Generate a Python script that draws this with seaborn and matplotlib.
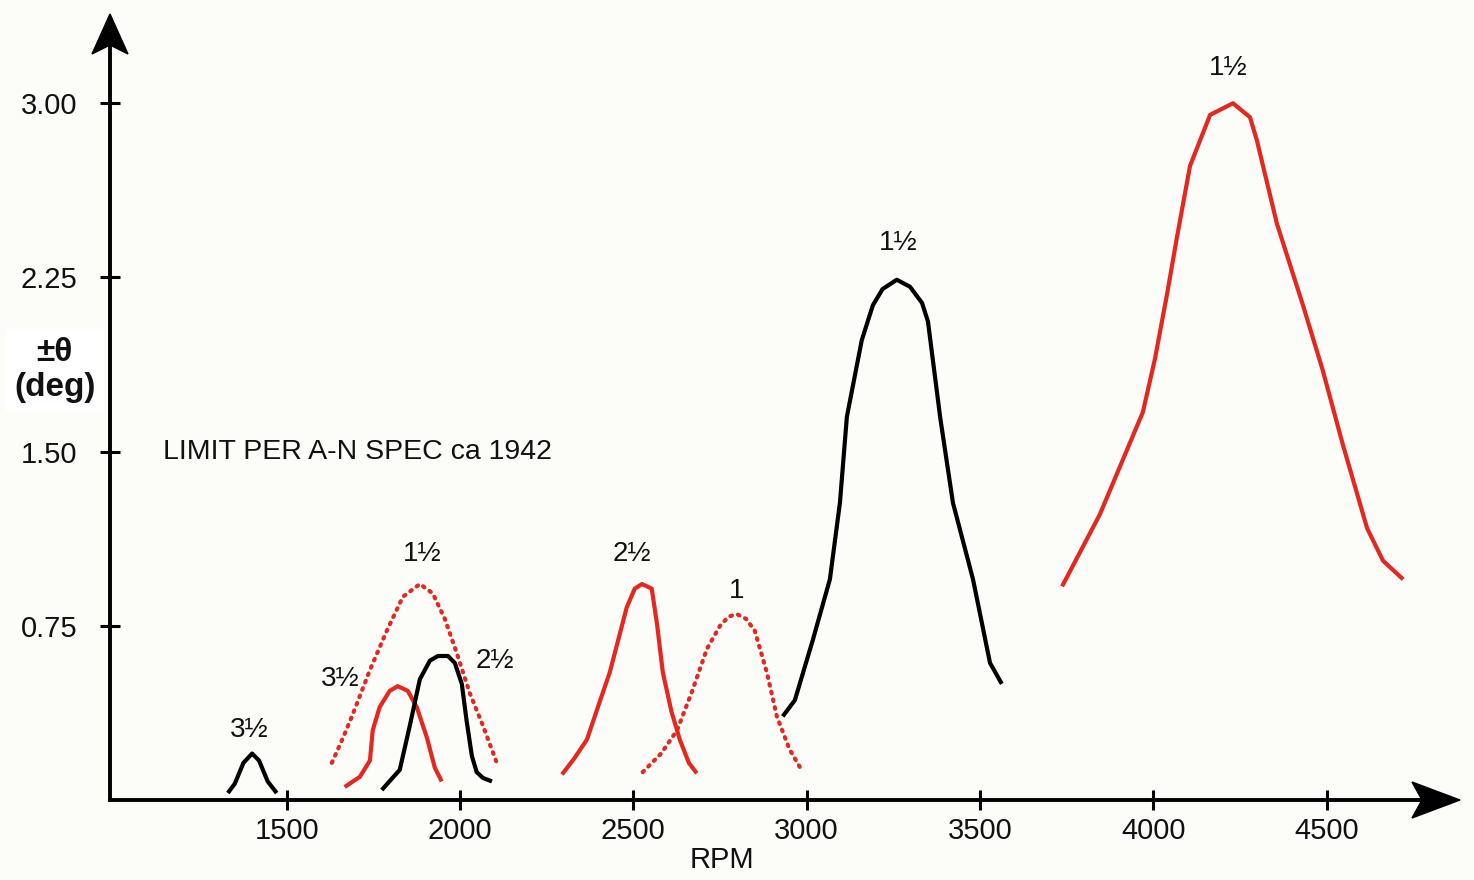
import pandas as pd
import seaborn as sns
import matplotlib.pyplot as plt
from matplotlib.patches import Polygon

# curve data (RPM, +/- theta deg)
rpm_a = [1330, 1350, 1375, 1400, 1420, 1445, 1471]
deg_a = [0.03, 0.07, 0.16, 0.20, 0.17, 0.08, 0.03]

rpm_b = [1630, 1660, 1688, 1740, 1789, 1835, 1884, 1921, 1956, 1991, 2028, 2066, 2106]
deg_b = [0.16, 0.26, 0.36, 0.56, 0.73, 0.875, 0.93, 0.89, 0.78, 0.63, 0.46, 0.32, 0.16]

rpm_c = [1667, 1711, 1740, 1748, 1768, 1797, 1820, 1849, 1875, 1904, 1927, 1947]
deg_c = [0.056, 0.10, 0.17, 0.30, 0.40, 0.47, 0.49, 0.47, 0.40, 0.27, 0.14, 0.08]

rpm_d = [1774, 1826, 1855, 1884, 1913, 1936, 1965, 1985, 2005, 2019, 2034, 2048, 2066, 2092]
deg_d = [0.043, 0.13, 0.32, 0.52, 0.60, 0.62, 0.62, 0.59, 0.50, 0.34, 0.19, 0.12, 0.095, 0.08]

rpm_e = [2294, 2330, 2366, 2400, 2432, 2481, 2504, 2525, 2553, 2568, 2585, 2610, 2634, 2660, 2683]
deg_e = [0.11, 0.18, 0.26, 0.41, 0.55, 0.83, 0.91, 0.93, 0.91, 0.76, 0.55, 0.38, 0.26, 0.16, 0.115]

rpm_f = [2527, 2580, 2626, 2670, 2712, 2750, 2775, 2799, 2825, 2850, 2885, 2914, 2950, 2981]
deg_f = [0.12, 0.20, 0.30, 0.47, 0.65, 0.75, 0.79, 0.80, 0.78, 0.73, 0.55, 0.36, 0.22, 0.14]

rpm_g = [2931, 2966, 3018, 3067, 3096, 3116, 3159, 3191, 3219, 3260, 3298, 3333, 3350, 3385, 3422, 3480, 3529, 3563]
deg_g = [0.36, 0.43, 0.69, 0.95, 1.28, 1.65, 1.98, 2.13, 2.20, 2.24, 2.21, 2.14, 2.06, 1.65, 1.28, 0.95, 0.59, 0.50]

rpm_h = [3737, 3846, 3970, 4005, 4040, 4068, 4106, 4135, 4164, 4230, 4279, 4299, 4357, 4432, 4489, 4547, 4617, 4663, 4721]
deg_h = [0.92, 1.23, 1.67, 1.90, 2.18, 2.42, 2.73, 2.84, 2.95, 3.00, 2.94, 2.84, 2.48, 2.13, 1.85, 1.53, 1.17, 1.03, 0.95]

order_labels = ['3½', '1½', '3½', '2½', '2½', '1', '1½', '1½']
label_rpm = [1393, 1890, 1653, 2100, 2496, 2799, 3263, 4216]
label_deg = [0.30, 1.06, 0.52, 0.60, 1.06, 0.90, 2.40, 3.15]

y_ticks = [0.75, 1.50, 2.25, 3.00]
x_ticks = [1500, 2000, 2500, 3000, 3500, 4000, 4500]

RED = '#e3281f'
curves = [
    (rpm_a, deg_a, 'black', '-'),
    (rpm_b, deg_b, RED, ':'),
    (rpm_c, deg_c, RED, '-'),
    (rpm_d, deg_d, 'black', '-'),
    (rpm_e, deg_e, RED, '-'),
    (rpm_f, deg_f, RED, ':'),
    (rpm_g, deg_g, 'black', '-'),
    (rpm_h, deg_h, RED, '-'),
]

sns.set_theme(style='white')
plt.rcParams['font.family'] = ['Liberation Sans', 'DejaVu Sans']

W, H = 1474, 880
fig = plt.figure(figsize=(W / 100, H / 100), dpi=100, facecolor='#fcfcf9')
ax = fig.add_axes([110 / W, 80 / H, 1350 / W, 785 / H])
ax.set_facecolor('#fcfcf9')

for rpm, deg, color, ls in curves:
    df = pd.DataFrame({'rpm': rpm, 'deg': deg})
    if ls == ':':
        sns.lineplot(data=df, x='rpm', y='deg', ax=ax, color=color, sort=False,
                     lw=3, linestyle=(0, (0.4, 1.5)), dash_capstyle='round',
                     solid_joinstyle='round')
    else:
        sns.lineplot(data=df, x='rpm', y='deg', ax=ax, color=color, sort=False,
                     lw=3, solid_capstyle='butt', solid_joinstyle='round')

for lab, x, y in zip(order_labels, label_rpm, label_deg):
    ax.text(x, y, lab, fontsize=20, ha='center', va='center', color='#111111')

ax.text(1142, 1.50, 'LIMIT PER A-N SPEC ca 1942', fontsize=20.5, ha='left', va='center',
        color='#111111')

ax.set_xlim(990, 4885)
ax.set_ylim(0, 3.38)
ax.set_xticks(x_ticks)
ax.set_xticklabels([str(t) for t in x_ticks])
ax.set_yticks(y_ticks)
ax.set_yticklabels(['%.2f' % t for t in y_ticks])

for side in ['top', 'right']:
    ax.spines[side].set_visible(False)
for side in ['left', 'bottom']:
    ax.spines[side].set_linewidth(2.8)
    ax.spines[side].set_color('black')
ax.spines['bottom'].set_bounds(990, 4800)
ax.spines['left'].set_bounds(0, 3.25)

ax.tick_params(axis='both', direction='inout', length=15, width=2.2, colors='black',
               labelsize=21, labelcolor='#111111')
ax.tick_params(axis='y', pad=16)
ax.tick_params(axis='x', pad=5)
ax.tick_params(left=True, bottom=True)

# notched arrow heads at the axis ends (figure pixels)
def head(pts):
    return Polygon([(x / W, y / H) for x, y in pts], closed=True, transform=fig.transFigure,
                   facecolor='black', edgecolor='black', lw=1, zorder=5)

fig.patches.append(head([(1460, 80), (1412, 98), (1422, 80), (1412, 62)]))
fig.patches.append(head([(110, 866), (92, 826), (110, 835), (128, 826)]))

ax.set_xlabel('RPM', fontsize=21, color='#111111')
ax.xaxis.set_label_coords(0.453, -0.058)
ax.set_ylabel('±θ\n(deg)', fontsize=24, fontweight='bold', rotation=0,
              ha='center', va='center', color='#111111', linespacing=1.15,
              bbox=dict(facecolor='white', edgecolor='none', pad=6))
ax.yaxis.set_label_coords(-0.041, 0.548)

fig.savefig('out.png', dpi=100, facecolor=fig.get_facecolor())
